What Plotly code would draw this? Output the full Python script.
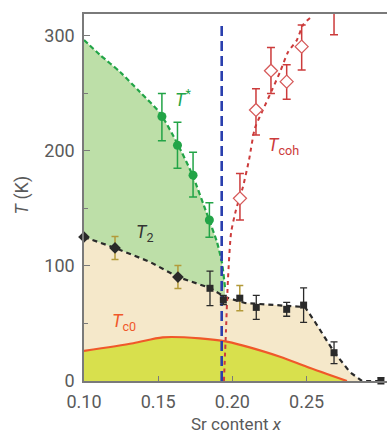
import plotly.graph_objects as go

# ---------------- data ----------------
# T* guide curve (green dashed)
tstar_curve_x = [0.1000, 0.1108, 0.1243, 0.1377, 0.1512, 0.1627, 0.1728, 0.1836, 0.1896, 0.1930, 0.1950]
tstar_curve_T = [296.5, 283.5, 268.7, 251.3, 233.0, 207.0, 180.0, 142.6, 120.9, 102.6, 81.7]
# T* measured points
tstar_x = [0.1525, 0.1630, 0.1735, 0.1845]
tstar_T = [230, 205, 179, 140]
tstar_err_up = [20, 20, 20, 15]
tstar_err_dn = [21, 20, 19, 15]

# T2 guide curve (black dashed)
t2_curve_x = [0.1000, 0.1209, 0.1445, 0.1633, 0.1849, 0.1950, 0.2085, 0.2388, 0.2489, 0.2557, 0.2685, 0.2792, 0.2873, 0.3001]
t2_curve_T = [125.2, 115.7, 103.5, 90.4, 80.9, 73.0, 67.8, 65.2, 64.3, 51.3, 25.2, 7.8, 0.0, 0.0]
# T2 measured points: diamonds and squares
t2d_x = [0.1000, 0.1209, 0.1633]
t2d_T = [125.2, 115.7, 90.4]
t2s_x = [0.1849, 0.1939, 0.2050, 0.2161, 0.2366, 0.2480, 0.2685, 0.3001]
t2s_T = [80.6, 70.4, 72.0, 64.0, 62.3, 66.0, 24.6, 0.0]
# error bars of T2 points (olive ones and black ones)
t2_olive_x = [0.1209, 0.1633, 0.2050]
t2_olive_T = [115.7, 90.4, 72.0]
t2_olive_err = [10, 10, 11]
t2_black_x = [0.1849, 0.1939, 0.2161, 0.2366, 0.2480, 0.2685, 0.3001]
t2_black_T = [80.6, 70.4, 64.0, 62.3, 66.0, 24.6, 0.0]
t2_black_err = [15, 4, 10.5, 6, 15, 9.5, 3]

# Tc0 superconducting dome (orange line)
tc0_x = [0.1000, 0.1332, 0.1530, 0.1782, 0.1962, 0.2321, 0.2501, 0.2772]
tc0_T = [26.1, 32.8, 38.0, 37.1, 34.2, 21.1, 12.4, 0.0]

# Tcoh guide curve (red dashed)
tcoh_curve_x = [0.1943, 0.1957, 0.1970, 0.1991, 0.2024, 0.2071, 0.2112, 0.2152, 0.2206, 0.2267, 0.2321, 0.2375, 0.2435, 0.2476, 0.2523]
tcoh_curve_T = [0.0, 44.3, 87.8, 128.7, 148.7, 168.7, 192.2, 220.0, 235.7, 253.0, 268.7, 286.0, 296.5, 309.6, 315.7]
# Tcoh measured points (open diamonds)
tcoh_x = [0.2051, 0.2159, 0.2260, 0.2366, 0.2467, 0.2685]
tcoh_T = [158.8, 235.7, 269.8, 260.3, 290.7, 340.0]
tcoh_err_up = [21.7, 18.3, 20.2, 14.7, 18.9, 40.0]
tcoh_err_dn = [18.8, 21.7, 19.8, 15.3, 20.3, 39.0]

# critical doping (blue dashed vertical)
xc_x = [0.1928, 0.1928]
xc_T = [0.0, 311.0]

x_ticks = [0.10, 0.15, 0.20, 0.25]
x_ticklabels = ["0.10", "0.15", "0.20", "0.25"]
y_ticks = [0, 100, 200, 300]

# ---------------- colours ----------------
BEIGE = "#f5e8ca"
GREENFILL = "#bddfa8"
DOME = "#d8e04d"
GREEN = "#22a447"
BLACK = "#2a2a2a"
OLIVE = "#b39a3a"
RED = "#cc3b3b"
ORANGE = "#f0582a"
BLUE = "#2a3fae"
AXIS = "#7a7a7a"
TXT = "#5a5a5a"

fig = go.Figure()

# beige region under T2
fig.add_trace(go.Scatter(x=t2_curve_x, y=t2_curve_T, mode="lines", fill="tozeroy",
                         fillcolor=BEIGE, line=dict(width=0), hoverinfo="skip", showlegend=False))
# green region between T* and T2
g_low = [(x, t) for x, t in zip(t2_curve_x, t2_curve_T) if x <= tstar_curve_x[-1]]
gx = tstar_curve_x + [p[0] for p in reversed(g_low)]
gy = tstar_curve_T + [p[1] for p in reversed(g_low)]
fig.add_trace(go.Scatter(x=gx, y=gy, mode="lines", fill="toself", fillcolor=GREENFILL,
                         line=dict(width=0), hoverinfo="skip", showlegend=False))
# superconducting dome
fig.add_trace(go.Scatter(x=tc0_x, y=tc0_T, mode="lines", fill="tozeroy", fillcolor=DOME,
                         line=dict(color=ORANGE, width=2.2, shape="spline", smoothing=0.8),
                         hoverinfo="skip", showlegend=False))
# guide lines
fig.add_trace(go.Scatter(x=t2_curve_x, y=t2_curve_T, mode="lines",
                         line=dict(color=BLACK, width=2.2, dash="5px,4px"), showlegend=False))
fig.add_trace(go.Scatter(x=tstar_curve_x, y=tstar_curve_T, mode="lines",
                         line=dict(color=GREEN, width=2.2, dash="5px,3px", shape="spline", smoothing=0.6),
                         showlegend=False))
fig.add_trace(go.Scatter(x=tcoh_curve_x, y=tcoh_curve_T, mode="lines",
                         line=dict(color=RED, width=2, dash="4px,4px", shape="spline", smoothing=0.6),
                         showlegend=False))
fig.add_trace(go.Scatter(x=xc_x, y=xc_T, mode="lines",
                         line=dict(color=BLUE, width=2.6, dash="10px,5px"), showlegend=False))

# error bars for T2 points
fig.add_trace(go.Scatter(x=t2_olive_x, y=t2_olive_T, mode="markers", marker=dict(size=1, opacity=0),
                         error_y=dict(type="data", array=t2_olive_err, color=OLIVE, thickness=1.5, width=3.5),
                         showlegend=False))
fig.add_trace(go.Scatter(x=t2_black_x, y=t2_black_T, mode="markers", marker=dict(size=1, opacity=0),
                         error_y=dict(type="data", array=t2_black_err, color=BLACK, thickness=1.3, width=3.5),
                         showlegend=False))
# T2 markers
fig.add_trace(go.Scatter(x=t2d_x, y=t2d_T, mode="markers", cliponaxis=False,
                         marker=dict(symbol="diamond", size=9, color=BLACK), showlegend=False))
fig.add_trace(go.Scatter(x=t2s_x, y=t2s_T, mode="markers", cliponaxis=False,
                         marker=dict(symbol="square", size=7, color=BLACK), showlegend=False))
# T* points
fig.add_trace(go.Scatter(x=tstar_x, y=tstar_T, mode="markers",
                         marker=dict(symbol="circle", size=9, color=GREEN),
                         error_y=dict(type="data", symmetric=False, array=tstar_err_up,
                                      arrayminus=tstar_err_dn, color=GREEN, thickness=1.5, width=4),
                         showlegend=False))
# Tcoh points
fig.add_trace(go.Scatter(x=tcoh_x, y=tcoh_T, mode="markers",
                         marker=dict(symbol="diamond", size=10, color="white",
                                     line=dict(color="#d65a5a", width=1.3)),
                         error_y=dict(type="data", symmetric=False, array=tcoh_err_up,
                                      arrayminus=tcoh_err_dn, color=RED, thickness=1.5, width=4),
                         showlegend=False))

# labels
lab_font = dict(family="Roboto, Arial, sans-serif", size=18)
fig.add_annotation(x=0.1665, y=246, text="<i>T</i><sup>*</sup>", showarrow=False,
                   font=dict(lab_font, color=GREEN))
fig.add_annotation(x=0.1411, y=129, text="<i>T</i><sub>2</sub>", showarrow=False,
                   font=dict(lab_font, color="#333333"))
fig.add_annotation(x=0.1270, y=51, text="<i>T</i><sub>c0</sub>", showarrow=False,
                   font=dict(lab_font, color=ORANGE))
fig.add_annotation(x=0.2345, y=204, text="<i>T</i><sub>coh</sub>", showarrow=False,
                   font=dict(lab_font, color=RED))
# axis titles
fig.add_annotation(xref="paper", yref="paper", x=0.5025, y=-0.118, text="Sr content <i>x</i>",
                   showarrow=False, font=dict(family="Roboto, Arial, sans-serif", size=17, color=TXT),
                   xanchor="center", yanchor="middle")
fig.add_annotation(xref="paper", yref="paper", x=-0.205, y=0.508, text="<i>T</i> (K)", textangle=-90,
                   showarrow=False, font=dict(family="Roboto, Arial, sans-serif", size=18, color=TXT),
                   xanchor="center", yanchor="middle")

fig.update_layout(
    width=387, height=434,
    margin=dict(l=84, r=0, t=14, b=53),
    paper_bgcolor="white", plot_bgcolor="white",
    font=dict(family="Roboto, Arial, sans-serif", size=18, color=TXT),
    xaxis=dict(range=[0.10, 0.3042], tickvals=x_ticks, ticktext=x_ticklabels,
               ticks="inside", ticklen=5, tickwidth=1.3, tickcolor=AXIS,
               showline=True, linecolor=AXIS, linewidth=1.5, mirror=True,
               showgrid=False, zeroline=False, ticklabelstandoff=4,
               tickfont=dict(size=18, color=TXT)),
    yaxis=dict(range=[0, 319.1], tickvals=y_ticks,
               ticks="inside", ticklen=6, tickwidth=1.3, tickcolor=AXIS,
               minor=dict(dtick=50, ticks="inside", ticklen=4, tickcolor=AXIS, showgrid=False),
               showline=True, linecolor=AXIS, linewidth=1.5,
               showgrid=False, zeroline=False, ticklabelstandoff=4,
               tickfont=dict(size=18, color=TXT)),
)

fig.write_html("out.html")
